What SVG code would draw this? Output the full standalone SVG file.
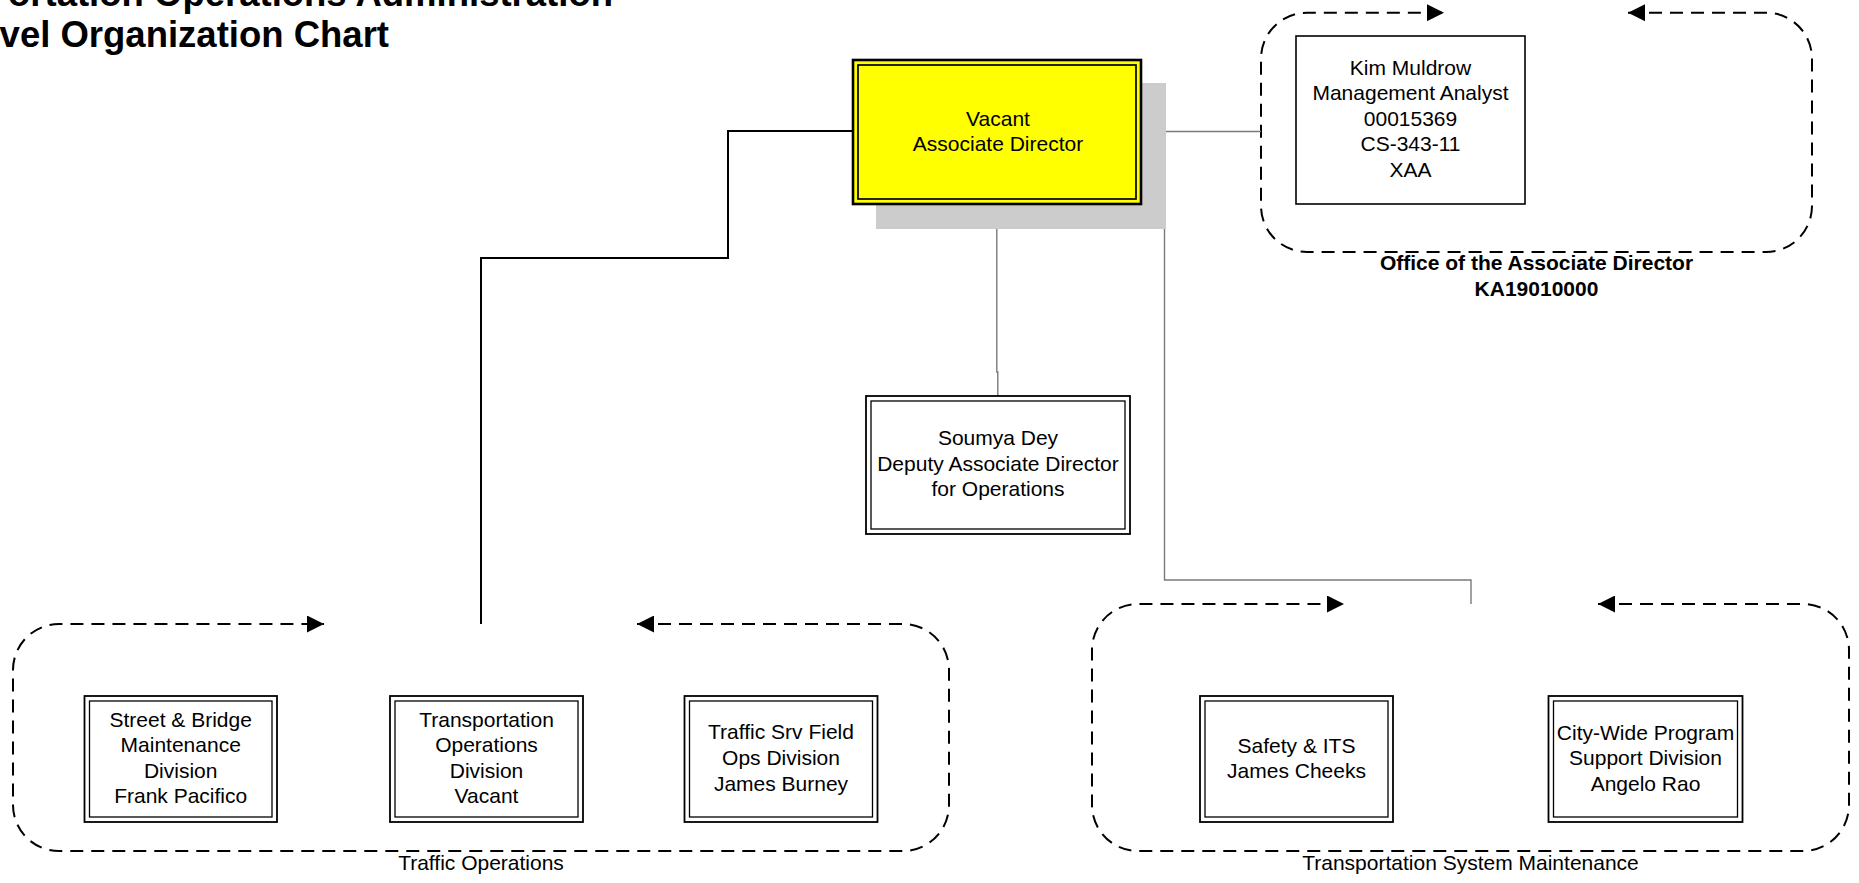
<svg xmlns="http://www.w3.org/2000/svg" width="1859" height="883" viewBox="0 0 1859 883">
<style>
text{font-family:"Liberation Sans",Arial,sans-serif;font-size:21px;fill:#000;text-anchor:middle}
.title{font-size:36.5px;font-weight:bold;text-anchor:end}
.bold{font-weight:bold}
.outer{fill:#fff;stroke:#000;stroke-width:1.8}
.inner{fill:none;stroke:#000;stroke-width:1.3}
.grp{fill:none;stroke:#000;stroke-width:2;stroke-dasharray:13 8}
.gray{fill:none;stroke:#7a7a7a;stroke-width:1.4}
.blk{fill:none;stroke:#000;stroke-width:2}
</style>
<defs>
<marker id="arr" markerUnits="userSpaceOnUse" markerWidth="17" markerHeight="17" refX="17" refY="8.5" orient="auto-start-reverse">
<path d="M0,0 L17,8.5 L0,17 z" fill="#000"/>
</marker>
</defs>
<rect width="1859" height="883" fill="#fff"/>
<g id="title">
<text class="title" x="613" y="6">ortation Operations Administration</text>
<text class="title" x="389" y="47">vel Organization Chart</text>
</g>
<g id="groups">
<g id="grp-office">
<path class="grp" d="M1628,12.7 H1766 A46,46 0 0 1 1812,58.7 V206 A46,46 0 0 1 1766,252 H1307 A46,46 0 0 1 1261,206 V58.7 A46,46 0 0 1 1307,12.7 H1444" marker-start="url(#arr)" marker-end="url(#arr)"/>
<text class="bold" x="1536.5" y="270">Office of the Associate Director</text>
<text class="bold" x="1536.5" y="296">KA19010000</text>
</g>
<g id="grp-traffic">
<path class="grp" d="M637,624 H903 A46,46 0 0 1 949,670 V805 A46,46 0 0 1 903,851 H59 A46,46 0 0 1 13,805 V670 A46,46 0 0 1 59,624 H324" marker-start="url(#arr)" marker-end="url(#arr)"/>
<text x="481" y="870">Traffic Operations</text>
</g>
<g id="grp-tsm">
<path class="grp" d="M1598,604 H1803 A46,46 0 0 1 1849,650 V805 A46,46 0 0 1 1803,851 H1138 A46,46 0 0 1 1092,805 V650 A46,46 0 0 1 1138,604 H1344" marker-start="url(#arr)" marker-end="url(#arr)"/>
<text x="1470.5" y="870">Transportation System Maintenance</text>
</g>
</g>
<g id="connectors">
<path class="blk" d="M853,131 H728 V258 H481 V624"/>
<path class="gray" d="M1141,131.5 H1261"/>
<path class="gray" d="M1164.5,131.5 V580 H1471 V604"/>
<path class="gray" d="M996.8,204 V372 H997.8 V396"/>
</g>
<g id="node-director">
<rect x="876" y="83" width="290" height="146" fill="#ccc"/>
<rect x="853" y="60" width="288" height="144" fill="#ff0" stroke="#000" stroke-width="2.6"/>
<rect x="858" y="65" width="278" height="134" fill="none" stroke="#000" stroke-width="1.7"/>
<text x="998" y="126">Vacant</text>
<text x="998" y="151">Associate Director</text>
</g>
<g id="node-kim">
<rect x="1296" y="36" width="229" height="168" fill="#fff" stroke="#000" stroke-width="1.6"/>
<text x="1410.5" y="74.5">Kim Muldrow</text>
<text x="1410.5" y="100">Management Analyst</text>
<text x="1410.5" y="125.5">00015369</text>
<text x="1410.5" y="151">CS-343-11</text>
<text x="1410.5" y="176.5">XAA</text>
</g>
<g id="node-soumya">
<rect class="outer" x="866" y="396" width="264" height="138"/>
<rect class="inner" x="871" y="401" width="254" height="128"/>
<text x="998" y="445">Soumya Dey</text>
<text x="998" y="470.5">Deputy Associate Director</text>
<text x="998" y="496">for Operations</text>
</g>
<g id="node-street">
<rect class="outer" x="84.5" y="696" width="192.5" height="126"/>
<rect class="inner" x="89.5" y="701" width="182.5" height="116"/>
<text x="180.7" y="727">Street &amp; Bridge</text>
<text x="180.7" y="752">Maintenance</text>
<text x="180.7" y="778">Division</text>
<text x="180.7" y="803">Frank Pacifico</text>
</g>
<g id="node-transops">
<rect class="outer" x="390" y="696" width="193" height="126"/>
<rect class="inner" x="395" y="701" width="183" height="116"/>
<text x="486.5" y="727">Transportation</text>
<text x="486.5" y="752">Operations</text>
<text x="486.5" y="778">Division</text>
<text x="486.5" y="803">Vacant</text>
</g>
<g id="node-trafficsrv">
<rect class="outer" x="684.5" y="696" width="193" height="126"/>
<rect class="inner" x="689.5" y="701" width="183" height="116"/>
<text x="781" y="739">Traffic Srv Field</text>
<text x="781" y="765">Ops Division</text>
<text x="781" y="790.5">James Burney</text>
</g>
<g id="node-safety">
<rect class="outer" x="1200" y="696" width="193" height="126"/>
<rect class="inner" x="1205" y="701" width="183" height="116"/>
<text x="1296.5" y="752.5">Safety &amp; ITS</text>
<text x="1296.5" y="777.5">James Cheeks</text>
</g>
<g id="node-citywide">
<rect class="outer" x="1548.5" y="696" width="194" height="126"/>
<rect class="inner" x="1553.5" y="701" width="184" height="116"/>
<text x="1645.5" y="740">City-Wide Program</text>
<text x="1645.5" y="765">Support Division</text>
<text x="1645.5" y="790.5">Angelo Rao</text>
</g>
</svg>
